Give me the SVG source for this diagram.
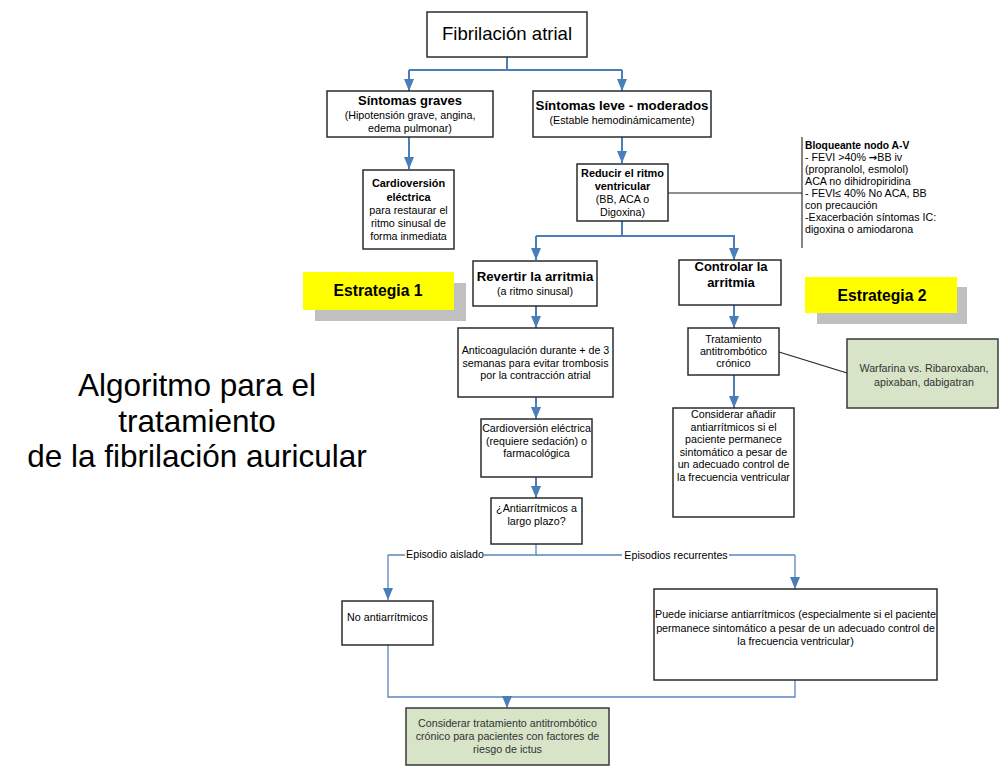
<svg xmlns="http://www.w3.org/2000/svg" width="999" height="766" viewBox="0 0 999 766">
<defs>
<marker id="ah" viewBox="0 0 12 10" refX="12" refY="5" markerWidth="12" markerHeight="10" markerUnits="userSpaceOnUse" orient="auto">
<path d="M0,0 L12,5 L0,10 z" fill="#4a7ebb"/>
</marker>
<style>
text{font-family:"Liberation Sans",Arial,sans-serif;fill:#000}
.box{fill:#fff;stroke:#2b2b2b;stroke-width:1.5}
.green{fill:#d7e4c8;stroke:#3a3a3a;stroke-width:1.5}
.c{text-anchor:middle}
.s{font-size:10.7px}
.b{font-weight:bold}
.g{fill:#333}
.con{fill:none;stroke:#4a7ebb;stroke-width:2}
.thin{fill:none;stroke:#5b85c0;stroke-width:1.3}
.dk{fill:none;stroke:#222;stroke-width:1.1}
</style>
</defs>
<rect width="999" height="766" fill="#fff"/>

<g id="connectors">
<path class="con" d="M507,57 V70 M409,70 H622"/>
<path class="con" d="M409,70 V91" marker-end="url(#ah)"/>
<path class="con" d="M622,70 V91" marker-end="url(#ah)"/>
<path class="con" d="M409,137 V169" marker-end="url(#ah)"/>
<path class="con" d="M622,137 V163" marker-end="url(#ah)"/>
<path class="con" d="M622,221 V236 M536,236 H735"/>
<path class="con" d="M536,236 V260" marker-end="url(#ah)"/>
<path class="con" d="M734,236 V260" marker-end="url(#ah)"/>
<path class="con" d="M536,306 V328" marker-end="url(#ah)"/>
<path class="con" d="M536,397 V419" marker-end="url(#ah)"/>
<path class="con" d="M536,477 V498" marker-end="url(#ah)"/>
<path class="con" d="M734,305 V328" marker-end="url(#ah)"/>
<path class="con" d="M734,375 V408" marker-end="url(#ah)"/>
<path class="dk" d="M668,193 H802 M802,137 V248"/>
<path class="dk" d="M779,352 L847,373"/>
<path class="thin" d="M536,544 V555 H484 M405,555 H388"/>
<path class="thin" d="M388,555 V600" marker-end="url(#ah)"/>
<path class="thin" d="M536,555 H622 M729,555 H795"/>
<path class="thin" d="M795,555 V589" marker-end="url(#ah)"/>
<path class="thin" d="M388,645 V697 H795 V680"/>
<path class="thin" d="M507,697 V708" marker-end="url(#ah)"/>
<text class="s c" x="445" y="558">Episodio aislado</text>
<text class="s c" x="676" y="559">Episodios recurrentes</text>
</g>

<g id="title">
<text class="c" x="197" y="396" font-size="31.5">Algoritmo para el</text>
<text class="c" x="197" y="432" font-size="31.5">tratamiento</text>
<text class="c" x="197" y="467" font-size="31.5">de la fibrilación auricular</text>
</g>

<g id="n-fa">
<rect class="box" x="427" y="12" width="160" height="45"/>
<text class="c" x="507" y="40" font-size="18.6">Fibrilación atrial</text>
</g>

<g id="n-graves">
<rect class="box" x="327" y="91" width="166" height="46"/>
<text class="c b" x="410" y="105" font-size="13">Síntomas graves</text>
<text class="c s" x="410" y="119">(Hipotensión grave, angina,</text>
<text class="c s" x="410" y="132">edema pulmonar)</text>
</g>

<g id="n-leve">
<rect class="box" x="533" y="91" width="178" height="46"/>
<text class="c b" x="622" y="110" font-size="13.3">Síntomas leve - moderados</text>
<text class="c s" x="622" y="124">(Estable hemodinámicamente)</text>
</g>

<g id="n-cardio">
<rect class="box" x="363" y="170" width="91" height="79"/>
<text class="c b" x="408.5" y="187" font-size="10.9">Cardioversión</text>
<text class="c b" x="408.5" y="200.5" font-size="10.9">eléctrica</text>
<text class="c s" x="408.5" y="214">para restaurar el</text>
<text class="c s" x="408.5" y="227">ritmo sinusal de</text>
<text class="c s" x="408.5" y="240">forma inmediata</text>
</g>

<g id="n-reducir">
<rect class="box" x="577" y="164" width="91" height="57"/>
<text class="c b" x="622.5" y="177" font-size="10.9">Reducir el ritmo</text>
<text class="c b" x="622.5" y="190" font-size="10.9">ventricular</text>
<text class="c s" x="622.5" y="203">(BB, ACA o</text>
<text class="c s" x="622.5" y="216">Digoxina)</text>
</g>

<g id="n-bloqueante">
<text class="b" x="805" y="149" font-size="10.3">Bloqueante nodo A-V</text>
<text class="s" x="805" y="161">- FEVI &gt;40% <tspan font-family="'DejaVu Sans',sans-serif" font-weight="bold" font-size="10px">→</tspan>BB iv</text>
<text class="s" x="805" y="173">(propranolol, esmolol)</text>
<text class="s" x="805" y="185">ACA no dihidropiridina</text>
<text class="s" x="805" y="197">- FEVI≤ 40% No ACA, BB</text>
<text class="s" x="805" y="209">con precaución</text>
<text class="s" x="805" y="221">-Exacerbación síntomas IC:</text>
<text class="s" x="805" y="233">digoxina o amiodarona</text>
</g>

<g id="n-estr1">
<rect x="315" y="283" width="151" height="38" fill="#c0c0c0"/>
<rect x="303" y="272" width="151" height="38" fill="#ffff00"/>
<text class="c b" x="378" y="296" font-size="15.7">Estrategia 1</text>
</g>

<g id="n-estr2">
<rect x="817" y="287" width="150" height="37" fill="#c0c0c0"/>
<rect x="805" y="277" width="152" height="36" fill="#ffff00"/>
<text class="c b" x="882" y="301" font-size="15.7">Estrategia 2</text>
</g>

<g id="n-revertir">
<rect class="box" x="473" y="261" width="124" height="45"/>
<text class="c b" x="535" y="281" font-size="13.2">Revertir la arritmia</text>
<text class="c s" x="535" y="295">(a ritmo sinusal)</text>
</g>

<g id="n-controlar">
<rect class="box" x="679" y="260" width="102" height="45"/>
<text class="c b" x="731" y="271" font-size="13">Controlar la</text>
<text class="c b" x="731" y="287" font-size="13">arritmia</text>
</g>

<g id="n-anticoag">
<rect class="box" x="458" y="328" width="155" height="69"/>
<text class="c s" x="535.5" y="354">Anticoagulación durante + de 3</text>
<text class="c s" x="535.5" y="367">semanas para evitar trombosis</text>
<text class="c s" x="535.5" y="379">por la contracción atrial</text>
</g>

<g id="n-cardio2">
<rect class="box" x="481" y="419" width="111" height="58"/>
<text class="c s" x="536.5" y="432">Cardioversión eléctrica</text>
<text class="c s" x="536.5" y="445">(requiere sedación) o</text>
<text class="c s" x="536.5" y="457">farmacológica</text>
</g>

<g id="n-largo">
<rect class="box" x="491" y="498" width="91" height="46"/>
<text class="c s" x="536.5" y="512">¿Antiarrítmicos a</text>
<text class="c s" x="536.5" y="525">largo plazo?</text>
</g>

<g id="n-tratam">
<rect class="box" x="688" y="328" width="91" height="47"/>
<text class="c s" x="733.5" y="343">Tratamiento</text>
<text class="c s" x="733.5" y="355">antitrombótico</text>
<text class="c s" x="733.5" y="367">crónico</text>
</g>

<g id="n-warfarina">
<rect class="green" x="847" y="339" width="151" height="69"/>
<text class="c s g" x="924" y="372">Warfarina vs. Ribaroxaban,</text>
<text class="c s g" x="924" y="386">apixaban, dabigatran</text>
</g>

<g id="n-considerar">
<rect class="box" x="673" y="408" width="121" height="109"/>
<text class="c s" x="733.5" y="418">Considerar añadir</text>
<text class="c s" x="733.5" y="431">antiarrítmicos si el</text>
<text class="c s" x="733.5" y="443">paciente permanece</text>
<text class="c s" x="733.5" y="456">sintomático a pesar de</text>
<text class="c s" x="733.5" y="468">un adecuado control de</text>
<text class="c s" x="733.5" y="481">la frecuencia ventricular</text>
</g>

<g id="n-noanti">
<rect class="box" x="342" y="601" width="91" height="44"/>
<text class="c s" x="387.5" y="621">No antiarrítmicos</text>
</g>

<g id="n-puede">
<rect class="box" x="654" y="589" width="283" height="91"/>
<text class="c s" x="795.5" y="618">Puede iniciarse antiarrítmicos (especialmente si el paciente</text>
<text class="c s" x="795.5" y="632">permanece sintomático a pesar de un adecuado control de</text>
<text class="c s" x="795.5" y="645">la frecuencia ventricular)</text>
</g>

<g id="n-final">
<rect class="green" x="406" y="708" width="203" height="57"/>
<text class="c s g" x="507.5" y="727">Considerar tratamiento antitrombótico</text>
<text class="c s g" x="507.5" y="740">crónico para pacientes con factores de</text>
<text class="c s g" x="507.5" y="753">riesgo de ictus</text>
</g>
</svg>
